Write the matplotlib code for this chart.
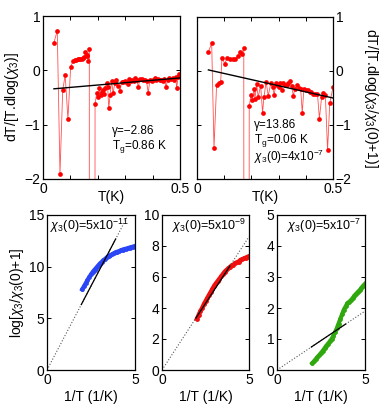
import numpy as np
import matplotlib
matplotlib.use("Agg")
import matplotlib.pyplot as plt

plt.rcParams['font.family'] = ['Liberation Sans', 'DejaVu Sans']
plt.rcParams['mathtext.fontset'] = 'custom'
plt.rcParams['mathtext.rm'] = 'Liberation Sans'
plt.rcParams['mathtext.it'] = 'Liberation Sans:italic'
plt.rcParams['font.size'] = 10

# top panels: dT/[T dlog chi3] vs T
T_left = [0.040, 0.052, 0.062, 0.072, 0.081, 0.091, 0.101, 0.111, 0.116, 0.121,
          0.126, 0.131, 0.136, 0.141, 0.146, 0.151, 0.155, 0.159, 0.162, 0.165,
          0.169, 0.170, 0.184, 0.190, 0.196, 0.202, 0.205, 0.210, 0.215, 0.219,
          0.222, 0.226, 0.232, 0.236, 0.240, 0.245, 0.250, 0.256, 0.262, 0.268,
          0.274, 0.281, 0.287, 0.292, 0.298, 0.303, 0.309, 0.315, 0.320, 0.326,
          0.331, 0.336, 0.342, 0.348, 0.354, 0.360, 0.366, 0.372, 0.378, 0.384,
          0.390, 0.396, 0.402, 0.408, 0.414, 0.420, 0.426, 0.432, 0.438, 0.443,
          0.449, 0.455, 0.461, 0.467, 0.473, 0.479, 0.484, 0.488, 0.493, 0.498]
y_left = [0.51, 0.73, -1.90, -0.36, -0.09, -0.90, 0.07, 0.18, 0.19, 0.19,
          0.20, 0.20, 0.20, 0.21, 0.22, 0.25, 0.33, 0.28, 0.26, 0.17,
          0.39, -40, -40, -0.62, -0.42, -0.50, -0.33, -0.45, -0.40, -0.36,
          -0.44, -0.33, -0.24, -0.30, -0.70, -0.45, -0.19, -0.42, -0.24, -0.18,
          -0.28, -0.38, -0.21, -0.22, -0.20, -0.22, -0.25, -0.16, -0.20, -0.17,
          -0.19, -0.15, -0.18, -0.30, -0.16, -0.16, -0.18, -0.17, -0.20, -0.42,
          -0.18, -0.19, -0.17, -0.15, -0.17, -0.16, -0.18, -0.17, -0.19, -0.16,
          -0.30, -0.17, -0.15, -0.16, -0.14, -0.17, -0.13, -0.33, -0.12, -0.06]
fit_left_T = [0.04, 0.5]
fit_left_y = [-0.34, -0.14]

T_right = [0.042, 0.054, 0.0625, 0.072, 0.082, 0.087, 0.092, 0.102, 0.111, 0.121,
           0.131, 0.141, 0.150, 0.158, 0.164, 0.172, 0.174, 0.188, 0.192, 0.199,
           0.203, 0.210, 0.213, 0.219, 0.225, 0.234, 0.241, 0.246, 0.254, 0.262,
           0.271, 0.278, 0.284, 0.290, 0.295, 0.300, 0.306, 0.311, 0.317, 0.324,
           0.330, 0.336, 0.342, 0.348, 0.354, 0.360, 0.369, 0.375, 0.381, 0.387,
           0.393, 0.400, 0.407, 0.414, 0.420, 0.427, 0.434, 0.443, 0.450, 0.458,
           0.465, 0.472, 0.480, 0.488, 0.500]
y_right = [0.36, 0.51, -1.43, -0.26, -0.22, -0.20, 0.25, 0.13, 0.25, 0.23,
           0.22, 0.22, 0.27, 0.36, 0.31, 0.42, -40, -40, -0.65, -0.44,
           -0.54, -0.34, -0.52, -0.24, -0.48, -0.27, -0.77, -0.49, -0.20, -0.46,
           -0.23, -0.30, -0.44, -0.23, -0.25, -0.29, -0.22, -0.35, -0.23, -0.26,
           -0.25, -0.22, -0.19, -0.28, -0.46, -0.33, -0.26, -0.31, -0.33, -0.77,
           -0.33, -0.35, -0.36, -0.38, -0.38, -0.43, -0.42, -0.43, -0.88, -0.49,
           -0.40, -0.45, -1.47, -0.60, -0.30]
fit_right_T = [0.042, 0.5]
fit_right_y = [0.02, -0.50]

# bottom panels: log[chi3/chi3(0)+1] vs 1/T
invT = [2.0, 2.1, 2.2, 2.3, 2.4, 2.5, 2.6, 2.7, 2.8, 2.9, 3.0, 3.1, 3.2, 3.3, 3.4, 3.5,
        3.6, 3.7, 3.8, 3.9, 4.0, 4.1, 4.2, 4.3, 4.4, 4.5, 4.6, 4.7, 4.8, 4.9, 5.0]
blue = [7.8, 8.1, 8.4, 8.7, 9.0, 9.25, 9.5, 9.7, 9.9, 10.1, 10.3, 10.45, 10.6, 10.75,
        10.9, 11.0, 11.1, 11.2, 11.3, 11.4, 11.45, 11.5, 11.6, 11.65, 11.7, 11.75,
        11.8, 11.85, 11.9, 11.95, 12.0]
red = [3.3, 3.55, 3.8, 4.0, 4.25, 4.45, 4.65, 4.85, 5.05, 5.25, 5.45, 5.6, 5.75, 5.9,
       6.05, 6.2, 6.35, 6.45, 6.55, 6.65, 6.75, 6.8, 6.9, 6.95, 7.0, 7.1, 7.15, 7.2,
       7.25, 7.3, 7.35]
green = [0.22, 0.28, 0.35, 0.42, 0.48, 0.55, 0.62, 0.70, 0.78, 0.85, 0.92, 1.0, 1.1,
         1.22, 1.35, 1.5, 1.65, 1.8, 1.95, 2.05, 2.15, 2.2, 2.25, 2.32, 2.4, 2.46,
         2.52, 2.58, 2.65, 2.72, 2.78]
slopes = [3.25, 1.72, 0.38]
ylims = [15, 10, 5]
yticks = [[0, 5, 10, 15], [0, 2, 4, 6, 8, 10], [0, 1, 2, 3, 4, 5]]
chi0 = [r'$\chi_3$(0)=5x10$^{-11}$', r'$\chi_3$(0)=5x10$^{-9}$', r'$\chi_3$(0)=5x10$^{-7}$']
colors = ['#2a45f5', '#f01010', '#2ea80c']

W, H = 382, 418
fig = plt.figure(figsize=(W / 100, H / 100), dpi=100)


def rect(x0, y0, x1, y1):
    return [x0 / W, 1 - y1 / H, (x1 - x0) / W, (y1 - y0) / H]


def style(ax):
    ax.tick_params(direction='in', top=True, right=True, length=3, width=0.7, labelsize=10, pad=2)
    for s in ax.spines.values():
        s.set_linewidth(0.9)


axL = fig.add_axes(rect(43, 16, 180, 179))
axR = fig.add_axes(rect(197, 17, 333, 179))
for ax, T, y, ft, fy in [(axL, T_left, y_left, fit_left_T, fit_left_y),
                         (axR, T_right, y_right, fit_right_T, fit_right_y)]:
    ax.plot(T, y, '-', color='#ff5050', lw=0.6)
    ax.plot(T, y, 'o', color='red', ms=3.4, mec='none')
    ax.plot(ft, fy, '-', color='black', lw=1.0)
    ax.set_xlim(0, 0.5)
    ax.set_ylim(-2, 1)
    ax.set_xticks([0, 0.1, 0.2, 0.3, 0.4, 0.5])
    ax.set_xticklabels(['0', '', '', '', '', '0.5'])
    ax.set_yticks([-2, -1, 0, 1])
    ax.set_yticklabels(['\u22122', '\u22121', '0', '1'])
    ax.set_xlabel('T(K)')
    ax.xaxis.set_label_coords(0.5, -0.065)
    style(ax)

axL.set_ylabel(r'dT/[T.dlog($\chi_3$)]', labelpad=2)
axR.yaxis.tick_right()
axR.tick_params(left=True)
axR.yaxis.set_label_position('right')
axR.set_ylabel(r'dT/[T.dlog($\chi_3$/$\chi_3$(0)+1)]', rotation=270, labelpad=20)

fs = 8.5
axL.text(0.25, -1.12, '\u03b3=\u22122.86', fontsize=fs, va='center')
axL.text(0.25, -1.40, r'T$_\mathregular{g}$=0.86 K', fontsize=fs, va='center')
axR.text(0.21, -1.00, '\u03b3=13.86', fontsize=fs, va='center')
axR.text(0.21, -1.28, r'T$_\mathregular{g}$=0.06 K', fontsize=fs, va='center')
axR.text(0.21, -1.60, r'$\chi_3$(0)=4x10$^{-7}$', fontsize=fs, va='center')

bottom_x = [(47, 135), (162, 249), (277, 365)]
for i, (x0, x1) in enumerate(bottom_x):
    ax = fig.add_axes(rect(x0, 215, x1, 370))
    data = [blue, red, green][i]
    ax.plot(invT, data, '-', color=colors[i], lw=3)
    ax.plot(invT, data, 'o', color=colors[i], ms=3.5, mec='none')
    xs = np.array([0, 5])
    ax.plot(xs, slopes[i] * xs, ':', color='#555555', lw=0.8)
    xs = np.array([1.95, 3.9])
    ax.plot(xs, slopes[i] * xs, '-', color='black', lw=0.9)
    ax.set_xlim(0, 5)
    ax.set_ylim(0, ylims[i])
    ax.set_xticks([0, 5])
    ax.set_yticks(yticks[i])
    ax.set_xlabel('1/T (1/K)', labelpad=2)
    ax.text(0.55 if i else 0.17, ylims[i] * 0.93, chi0[i], fontsize=9, va='center')
    style(ax)
    if i == 0:
        ax.set_ylabel(r'log[$\chi_3$/$\chi_3$(0)+1]', labelpad=2)

fig.savefig('out.png', dpi=100)
